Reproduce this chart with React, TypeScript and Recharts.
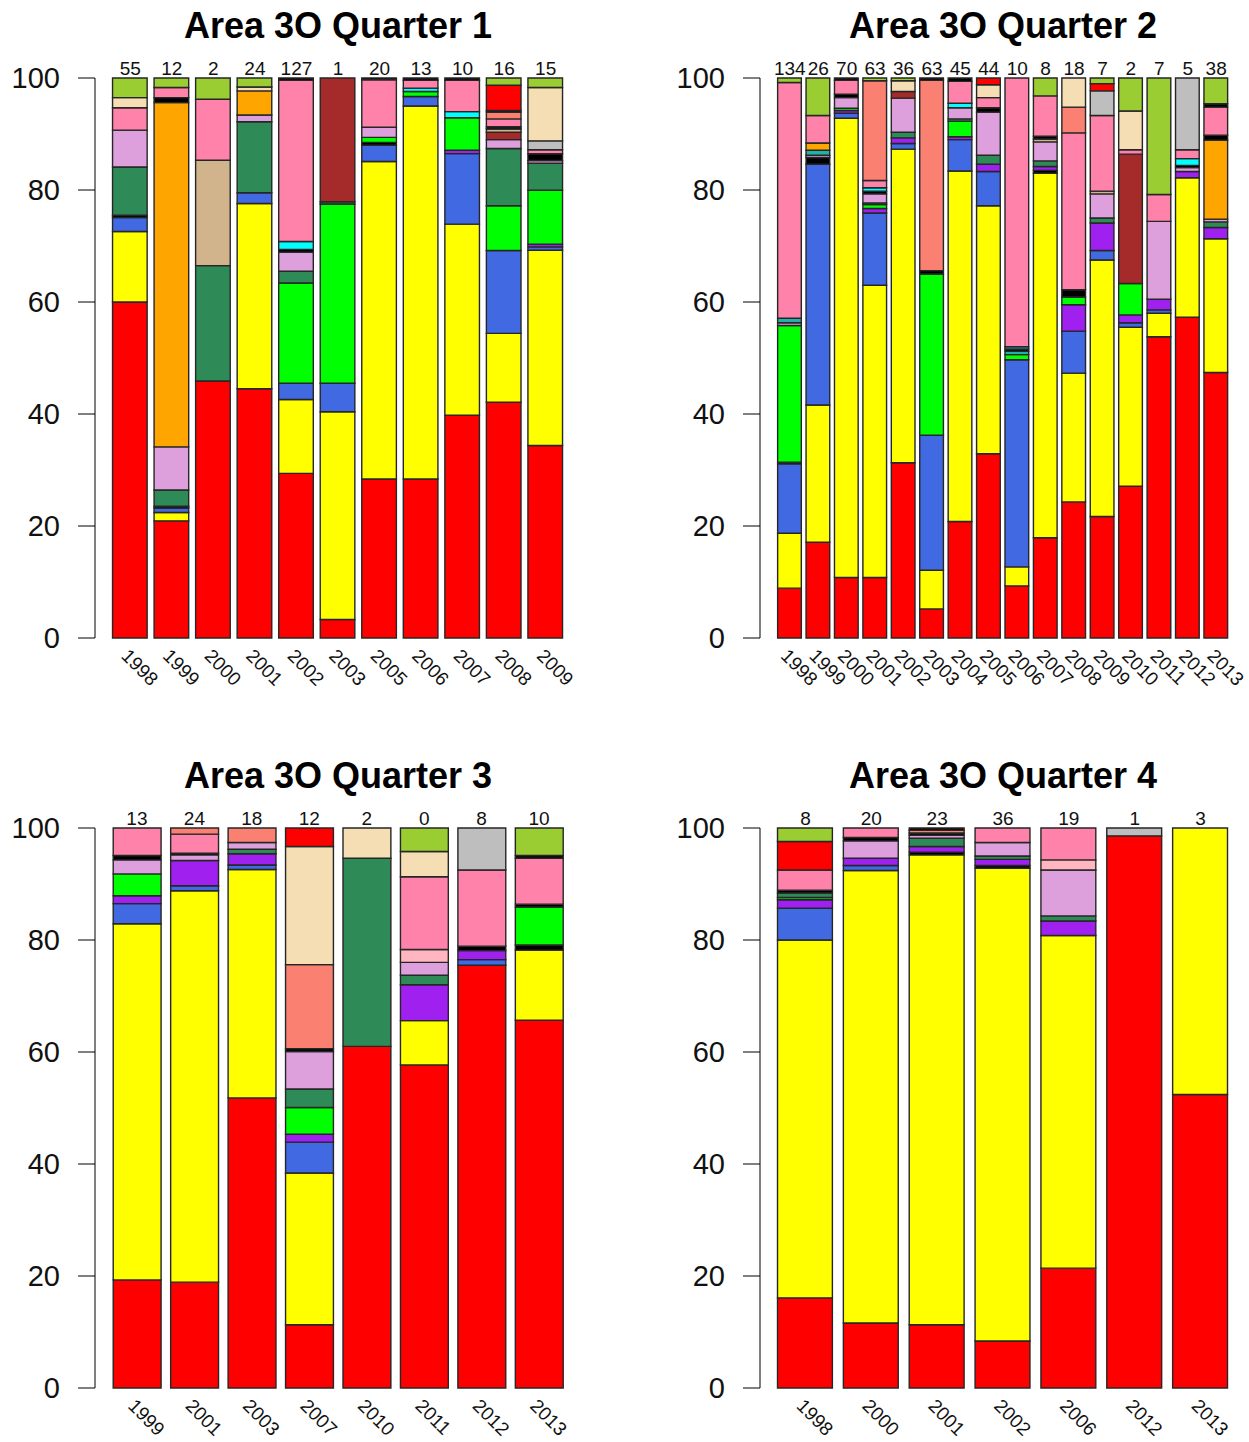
import { BarChart, Bar, XAxis, YAxis } from 'recharts';

// stacking order, bottom to top
const ORDER = ['k01', 'k02', 'k03', 'k04', 'k05', 'k06', 'k07', 'k08', 'k09', 'k10', 'k11',
  'k12', 'k13', 'k14', 'k15', 'k16', 'k17', 'k18', 'k19', 'k20', 'k21', 'k22'];

const COLORS: Record<string, string> = {
  k01: '#FF0000', k02: '#FFFF00', k03: '#4169E1', k04: '#000000', k05: '#A020F0',
  k06: '#00FF00', k07: '#2E8B57', k08: '#DDA0DD', k09: '#A52A2A', k10: '#D2B48C',
  k11: '#20B2AA', k12: '#FFA500', k13: '#000000', k14: '#00FFFF', k15: '#FFB6C1',
  k16: '#FF82AB', k17: '#FA8072', k18: '#000000', k19: '#BEBEBE', k20: '#F5DEB3',
  k21: '#FF0000', k22: '#9ACD32',
};

const Q1_YEARS = ['1998', '1999', '2000', '2001', '2002', '2003', '2005', '2006', '2007', '2008', '2009'];
const Q1_COUNTS = [55, 12, 2, 24, 127, 1, 20, 13, 10, 16, 15];
const Q1_VALUES: Record<string, number[]> = {
  k01: [60.0, 20.9, 45.9, 44.5, 29.4, 3.3, 28.4, 28.4, 39.8, 42.1, 34.3],
  k02: [12.6, 1.5, 0, 33.1, 13.2, 37.1, 56.7, 66.6, 34.1, 12.3, 34.8],
  k03: [2.5, 0.8, 0, 1.9, 2.9, 5.1, 2.9, 1.7, 12.6, 14.8, 0.6],
  k04: [0.4, 0.3, 0, 0, 0, 0, 0.5, 0, 0, 0, 0],
  k05: [0, 0, 0, 0, 0, 0, 0, 0, 0.6, 0, 0.5],
  k06: [0, 0, 0, 0, 17.9, 32.0, 0.9, 0.9, 5.8, 8.0, 9.6],
  k07: [8.6, 2.9, 20.6, 12.7, 2.1, 0.4, 0, 0, 0, 10.2, 4.8],
  k08: [6.6, 7.7, 0, 1.2, 3.4, 0, 1.8, 0, 0, 1.6, 0.5],
  k09: [0, 0, 0, 0, 0, 22.1, 0, 0, 0, 1.3, 0],
  k10: [0, 0, 18.8, 0, 0, 0, 0, 0, 0, 0.6, 0],
  k12: [0, 61.4, 0, 4.3, 0, 0, 0, 0, 0, 0, 0],
  k13: [0, 0.9, 0, 0, 0.5, 0, 0, 0, 0, 0.4, 1.2],
  k14: [0, 0, 0, 0, 1.4, 0, 0, 0.6, 1.1, 0, 0],
  k16: [4.0, 1.8, 10.9, 0, 28.8, 0, 8.5, 1.4, 5.6, 1.4, 0.7],
  k17: [0, 0, 0, 0, 0, 0, 0, 0, 0, 1.2, 0],
  k18: [0, 0, 0, 0, 0.4, 0, 0.3, 0.4, 0.4, 0.3, 0],
  k19: [0, 0, 0, 0, 0, 0, 0, 0, 0, 0, 1.6],
  k20: [1.8, 0, 0, 0.7, 0, 0, 0, 0, 0, 0, 9.5],
  k21: [0, 0, 0, 0, 0, 0, 0, 0, 0, 4.5, 0],
  k22: [3.5, 1.7, 3.8, 1.6, 0, 0, 0, 0, 0, 1.3, 1.7],
};

const Q2_YEARS = ['1998', '1999', '2000', '2001', '2002', '2003', '2004', '2005',
  '2006', '2007', '2008', '2009', '2010', '2011', '2012', '2013'];
const Q2_COUNTS = [134, 26, 70, 63, 36, 63, 45, 44, 10, 8, 18, 7, 2, 7, 5, 38];
const Q2_VALUES: Record<string, number[]> = {
  k01: [8.9, 17.1, 10.8, 10.8, 31.3, 5.2, 20.8, 32.9, 9.3, 17.9, 24.3, 21.7, 27.1, 53.8, 57.3, 47.4],
  k02: [9.8, 24.5, 82.0, 52.2, 56.0, 6.9, 62.6, 44.3, 3.4, 65.1, 23.0, 45.8, 28.4, 4.2, 24.9, 23.9],
  k03: [12.4, 43.0, 0.9, 12.9, 1.0, 24.1, 5.6, 6.1, 37.0, 0, 7.5, 1.7, 0.8, 0.6, 0, 0],
  k04: [0.3, 1.2, 0, 0, 0, 0, 0, 0, 0, 0.5, 0, 0, 0, 0, 0, 0],
  k05: [0, 0, 0.5, 0.8, 1.0, 0, 0.5, 1.3, 0, 0.7, 4.7, 4.9, 1.4, 1.9, 1.1, 2.0],
  k06: [24.4, 0, 0.4, 0.7, 0, 28.8, 2.8, 0, 0.9, 0, 1.4, 0, 5.6, 0, 0, 0],
  k07: [0, 0, 0, 0.3, 1.0, 0, 0.4, 1.6, 0, 1.0, 0, 0.9, 0, 0, 0, 1.0],
  k08: [0.5, 0.4, 1.9, 1.6, 6.1, 0, 2.0, 7.7, 0, 3.4, 0, 4.3, 0, 13.9, 0.7, 0.5],
  k09: [0, 0, 0, 0, 1.2, 0, 0, 0, 0, 0, 0, 0, 23.1, 0, 0, 0],
  k10: [0, 0, 0, 0, 0, 0, 0, 0, 0, 0.5, 0, 0.5, 0, 0, 0, 0],
  k11: [0.8, 0.9, 0, 0, 0, 0, 0, 0, 0.6, 0, 0, 0, 0, 0, 0, 0],
  k12: [0, 1.3, 0, 0, 0, 0, 0, 0, 0, 0, 0, 0, 0, 0, 0, 14.1],
  k13: [0, 0, 0.6, 0.5, 0, 0.6, 0, 0.8, 0.4, 0.5, 1.3, 0, 0, 0, 0.4, 0.9],
  k14: [0, 0, 0, 0.6, 0, 0, 0.8, 0, 0.4, 0, 0, 0, 0, 0, 1.2, 0],
  k16: [42.1, 4.9, 2.5, 1.3, 0, 0, 3.9, 1.8, 48.0, 7.2, 28.0, 13.5, 0.8, 4.8, 1.6, 5.0],
  k17: [0, 0, 0, 17.8, 0, 34.0, 0, 0, 0, 0, 4.6, 0, 0, 0, 0, 0],
  k18: [0, 0, 0.4, 0, 0, 0.4, 0.6, 0, 0, 0, 0, 0, 0, 0, 0, 0.6],
  k19: [0, 0, 0, 0, 0, 0, 0, 0, 0, 0, 0, 4.4, 0, 0, 12.8, 0],
  k20: [0, 0, 0, 0, 1.9, 0, 0, 2.3, 0, 0, 5.2, 0, 6.9, 0, 0, 0],
  k21: [0, 0, 0, 0, 0, 0, 0, 1.2, 0, 0, 0, 1.3, 0, 0, 0, 0],
  k22: [0.8, 6.7, 0, 0.5, 0.5, 0, 0, 0, 0, 3.2, 0, 1.0, 5.9, 20.8, 0, 4.6],
};

const Q3_YEARS = ['1999', '2001', '2003', '2007', '2010', '2011', '2012', '2013'];
const Q3_COUNTS = [13, 24, 18, 12, 2, 0, 8, 10];
const Q3_VALUES: Record<string, number[]> = {
  k01: [19.3, 18.9, 51.8, 11.3, 61.0, 57.7, 75.5, 65.7],
  k02: [63.6, 69.9, 40.8, 27.1, 0, 7.9, 0, 12.5],
  k03: [3.6, 0.9, 0.8, 5.5, 0, 0, 1.0, 0],
  k04: [0, 0, 0, 0, 0, 0, 0, 0.9],
  k05: [1.4, 4.5, 2.0, 1.4, 0, 6.4, 1.6, 0],
  k06: [3.9, 0, 0, 4.8, 0, 0, 0, 6.8],
  k07: [0, 0, 0.8, 3.3, 33.6, 1.7, 0, 0],
  k08: [2.5, 1.0, 1.2, 6.7, 0, 2.3, 0, 0],
  k13: [0.8, 0.3, 0, 0.5, 0, 0, 0.8, 0.5],
  k15: [0, 0, 0, 0, 0, 2.3, 0, 0],
  k16: [4.9, 3.4, 0, 0, 0, 13.0, 13.6, 8.2],
  k17: [0, 1.1, 2.6, 15.0, 0, 0, 0, 0],
  k18: [0, 0, 0, 0, 0, 0, 0, 0.5],
  k19: [0, 0, 0, 0, 0, 0, 7.5, 0],
  k20: [0, 0, 0, 21.1, 5.4, 4.5, 0, 0],
  k21: [0, 0, 0, 3.3, 0, 0, 0, 0],
  k22: [0, 0, 0, 0, 0, 4.2, 0, 4.9],
};

const Q4_YEARS = ['1998', '2000', '2001', '2002', '2006', '2012', '2013'];
const Q4_COUNTS = [8, 20, 23, 36, 19, 1, 3];
const Q4_VALUES: Record<string, number[]> = {
  k01: [16.1, 11.6, 11.3, 8.4, 21.4, 98.6, 52.4],
  k02: [63.9, 80.8, 83.9, 84.4, 59.4, 0, 47.6],
  k03: [5.7, 0.9, 0, 0, 0, 0, 0],
  k04: [0, 0, 0.5, 0.5, 0, 0, 0],
  k05: [1.5, 1.3, 1.0, 1.1, 2.6, 0, 0],
  k06: [0.4, 0, 0, 0, 0, 0, 0],
  k07: [0.8, 0, 1.5, 0.6, 0.9, 0, 0],
  k08: [0, 3.1, 0.5, 2.4, 8.2, 0, 0],
  k13: [0.5, 0.6, 0.4, 0, 0, 0, 0],
  k15: [0, 0, 0, 0, 1.8, 0, 0],
  k16: [3.6, 1.7, 0, 2.6, 5.7, 0, 0],
  k17: [0, 0, 0.5, 0, 0, 0, 0],
  k18: [0, 0, 0.4, 0, 0, 0, 0],
  k19: [0, 0, 0, 0, 0, 1.4, 0],
  k21: [5.1, 0, 0, 0, 0, 0, 0],
  k22: [2.4, 0, 0, 0, 0, 0, 0],
};

const Y_TICKS = [0, 0.2, 0.4, 0.6, 0.8, 1];
const PLOT_TOP = 78;
const PLOT_H = 560;
const INNER = 450;

type PanelProps = {
  title: string;
  years: string[];
  counts: number[];
  values: Record<string, number[]>;
  left: number;
  top: number;
  xHeight: number;
};

function Panel({ title, years, counts, values, left, top, xHeight }: PanelProps) {
  const n = years.length;
  const unit = INNER / (n * 1.2 - 0.2);
  const pad = 18 - unit * 0.1;
  const keys = ORDER.filter((k) => values[k]);
  const data = years.map((year, i) => {
    const row: Record<string, string | number> = { year };
    keys.forEach((k) => { row[k] = values[k][i]; });
    return row;
  });
  const plotBottom = PLOT_TOP + PLOT_H;

  const renderTick = (p: any) => {
    const { x, index, payload } = p;
    const ax = x - 10;
    const ay = plotBottom + 19;
    return (
      <g>
        <text x={x} y={PLOT_TOP - 3} textAnchor="middle" fontSize={19} fill="#111">{counts[index]}</text>
        <text x={ax} y={ay} transform={`rotate(45 ${ax} ${ay})`} fontSize={19} fill="#111">{payload.value}</text>
      </g>
    );
  };

  return (
    <div style={{ position: 'absolute', left, top }}>
      <div style={{
        position: 'absolute', left: 95, width: 486, top: 6, textAlign: 'center',
        fontWeight: 'bold', fontSize: 36, lineHeight: '40px', color: '#000',
      }}>{title}</div>
      <BarChart width={584} height={PLOT_TOP + PLOT_H + xHeight} data={data}
        margin={{ top: PLOT_TOP, right: 3, left: 0, bottom: 0 }} stackOffset="expand" barSize={unit}>
        <XAxis dataKey="year" interval={0} padding={{ left: pad, right: pad }} axisLine={false}
          tickLine={false} height={xHeight} tick={renderTick} />
        <YAxis domain={[0, 1]} ticks={Y_TICKS} tickFormatter={(v: number) => String(Math.round(v * 100))}
          width={95} tickSize={17} tickMargin={18} axisLine={{ stroke: '#000' }} tickLine={{ stroke: '#000' }}
          tick={{ fontSize: 29, fill: '#111' }} />
        {keys.map((k) => (
          <Bar key={k} dataKey={k} stackId="s" fill={COLORS[k]} stroke="#262626" strokeWidth={1.4}
            isAnimationActive={false} />
        ))}
      </BarChart>
    </div>
  );
}

export default function App() {
  return (
    <div style={{
      position: 'absolute', left: 0, top: 0, width: 1249, height: 1442, background: '#fff',
      fontFamily: '"Liberation Sans", Arial, sans-serif', overflow: 'hidden',
    }}>
      <Panel title="Area 3O Quarter 1" years={Q1_YEARS} counts={Q1_COUNTS} values={Q1_VALUES} left={0} top={0} xHeight={80} />
      <Panel title="Area 3O Quarter 2" years={Q2_YEARS} counts={Q2_COUNTS} values={Q2_VALUES} left={665} top={0} xHeight={80} />
      <Panel title="Area 3O Quarter 3" years={Q3_YEARS} counts={Q3_COUNTS} values={Q3_VALUES} left={0} top={750} xHeight={62} />
      <Panel title="Area 3O Quarter 4" years={Q4_YEARS} counts={Q4_COUNTS} values={Q4_VALUES} left={665} top={750} xHeight={62} />
    </div>
  );
}
